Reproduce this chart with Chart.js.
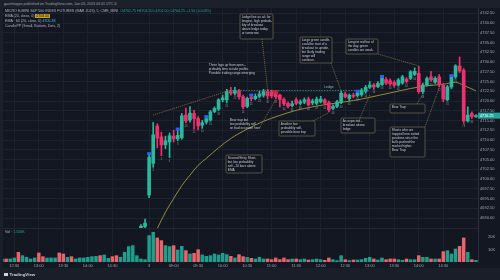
<!DOCTYPE html>
<html lang="en">
<head>
<meta charset="UTF-8">
<meta name="viewport" content="width=device-width, initial-scale=1.0">
<title>MES 5m - Jan 03</title>
<script src="https://cdn.jsdelivr.net/npm/chart.js@4.4.1/dist/chart.umd.min.js"></script>
<style>
    body {
        margin: 0;
        width: 500px;
        height: 280px;
        background: #131722;
        overflow: hidden;
        position: relative;
        font-family: 'Liberation Sans', Arial, sans-serif;
    }
    .topbar {
        position: absolute; left: 0; top: 0; width: 500px; height: 8px;
        background: #1c202b; color: #9da0a8; font-size: 3.6px; line-height: 8px;
        padding-left: 4px; box-sizing: border-box; z-index: 3;
    }
    .legend {
        position: absolute; left: 5px; top: 8.5px; z-index: 3;
        color: #b2b5be; font-size: 3.6px; line-height: 5px; white-space: nowrap;
    }
    .legend .up { color: #26a69a; }
    .legend .ema { color: #151515; background: #c9a227; padding: 0 0.8px; }
    .legend .ema60 { color: #4fc3f7; }
    .leftstrip { position: absolute; left: 0; top: 8px; width: 3px; height: 260px; background: #1b1f2a; z-index: 2; }
    #priceWrap { position: absolute; left: 0; top: 0; width: 500px; height: 228px; }
    #volWrap { position: absolute; left: 0; top: 228px; width: 500px; height: 40px; }
    .sep { position: absolute; left: 0; top: 228px; width: 478px; height: 1px; background: #222633; }
    .vollabel { position: absolute; left: 5px; top: 229.5px; font-size: 3.6px; color: #b2b5be; z-index: 3; }
    .vollabel span { color: #26a69a; }
    .footer { position: absolute; left: 0; top: 268px; width: 500px; height: 12px; background: #1a1e29; }
    .logo { position: absolute; left: 4px; top: 271.5px; font-size: 4.4px; color: #d1d4dc; font-weight: bold; z-index: 3; }
    .logo i { display: inline-block; width: 4px; height: 3px; background: #d1d4dc; margin-right: 1.5px; vertical-align: middle; }
</style>
</head>
<body>
<div class="topbar">gavinhoppe published on TradingView.com, Jan 03, 2023 03:41 UTC-6</div>
<div class="legend">
    <div>MICRO E-MINI S&amp;P 500 INDEX FUTURES (MAR 2023), 5, CME_MINI &nbsp;<span class="up">O4702.75 H4704.50 L4702.00 C4704.25 +1.50 (+0.03%)</span></div>
    <div>EMA (20, close, 0) <span class="ema">4708.00</span></div>
    <div>EMA · 60 (20, close, 0) <span class="ema60">4705.33</span></div>
    <div>CandlePP (Small, Bottom, Dots, 2)</div>
</div>
<div class="leftstrip"></div>
<div id="priceWrap"><canvas id="price"></canvas></div>
<div class="sep"></div>
<div id="volWrap"><canvas id="vol"></canvas></div>
<div class="vollabel">Vol · <span>1.556K</span></div>
<div class="footer"></div>
<div class="logo"><i></i>TradingView</div>

<script>
// sessions: Dec 30 12:15-15:10, Jan 3 08:30-15:10 (5 min bars)
function session(h, m, count) {
    const out = [];
    for (let k = 0; k < count; k++) {
        const t = h * 60 + m + k * 5;
        out.push(String(Math.floor(t / 60)).padStart(2, '0') + ':' + String(t % 60).padStart(2, '0'));
    }
    return out;
}
const times = session(12, 15, 36).concat(session(8, 30, 81));
const dayStart = 36;   // first bar of Jan 3, labelled "3"
const shownTimes = ['12:30', '13:00', '13:30', '14:00', '14:30', '09:00', '09:30', '10:00', '10:30', '11:00', '11:30', '12:00'];

const open = [
    4675.5,4676.0,4675.2,4676.0,4676.8,4674.5,4676.2,4677.0,4677.5,4678.2,
    4676.5,4675.8,4676.5,4677.2,4677.8,4675.9,4674.6,4675.5,4674.8,4675.4,
    4676.1,4676.9,4677.6,4678.5,4679.3,4678.0,4679.2,4679.8,4678.7,4677.6,
    4678.9,4681.0,4683.6,4686.0,4687.3,4687.8,
    4695.9,4704.0,4713.6,4710.8,4708.8,4709.5,4711.0,4710.3,4710.6,4716.4,
    4715.1,4716.8,4715.5,4713.8,4714.6,4715.1,4717.3,4717.9,4720.3,4720.3,
    4722.4,4722.0,4722.6,4721.1,4718.6,4720.9,4720.6,4721.2,4721.5,4722.4,
    4722.4,4722.0,4721.5,4720.4,4719.4,4718.8,4720.3,4719.4,4719.7,4720.5,
    4719.5,4719.4,4719.8,4720.3,4719.6,4718.1,4718.6,4719.6,4721.8,4720.6,
    4721.5,4721.4,4721.6,4722.5,4723.5,4724.1,4723.7,4724.2,4725.5,4725.2,
    4724.8,4724.1,4724.6,4725.6,4725.8,4726.8,4727.1,4722.4,4724.1,4726.2,
    4724.8,4726.2,4724.0,4720.3,4723.6,4726.2,4729.0,4727.9,4714.9,4716.8,
    4716.0
];
const high = [
    4676.5,4676.4,4676.3,4677.2,4677.0,4676.6,4677.3,4677.9,4678.6,4678.5,
    4676.9,4676.8,4677.5,4678.3,4678.1,4676.2,4675.9,4675.8,4675.7,4676.5,
    4677.2,4678.0,4678.9,4679.7,4679.6,4679.5,4680.2,4680.1,4679.0,4679.2,
    4681.4,4684.0,4686.4,4687.3,4688.3,4689.7,
    4706.5,4714.5,4714.2,4712.0,4711.0,4711.8,4712.5,4712.8,4716.8,4718.2,
    4718.6,4717.6,4716.0,4715.0,4716.0,4717.6,4718.5,4720.6,4721.5,4723.0,
    4723.5,4723.5,4723.0,4721.5,4721.0,4721.5,4721.8,4722.5,4723.0,4723.0,
    4722.8,4722.5,4721.8,4720.8,4719.8,4720.0,4720.8,4720.3,4720.8,4721.0,
    4720.5,4721.0,4721.2,4720.6,4720.0,4719.0,4720.2,4722.5,4722.3,4721.8,
    4722.0,4722.5,4723.2,4724.0,4725.0,4724.5,4725.0,4726.3,4726.0,4725.7,
    4725.2,4725.8,4726.6,4726.0,4727.8,4728.5,4728.9,4724.6,4726.2,4727.6,
    4726.2,4726.8,4724.5,4724.0,4726.5,4729.3,4731.3,4728.3,4718.5,4717.2,
    4716.5
];
const low = [
    4675.1,4674.9,4674.8,4675.7,4674.1,4674.2,4675.9,4676.7,4677.2,4676.1,
    4675.4,4675.5,4676.2,4676.9,4675.6,4674.3,4674.3,4674.5,4674.5,4675.1,
    4675.8,4676.6,4677.3,4678.2,4677.7,4677.7,4678.9,4678.4,4677.3,4677.3,
    4678.6,4680.7,4683.2,4685.7,4687.0,4687.5,
    4695.2,4703.0,4708.0,4706.0,4707.8,4705.5,4709.5,4709.8,4710.2,4714.4,
    4714.6,4712.8,4712.6,4713.0,4714.1,4714.8,4717.0,4717.5,4719.8,4719.5,
    4721.5,4721.5,4720.5,4718.0,4718.3,4720.0,4720.3,4720.8,4721.0,4720.5,
    4720.8,4720.5,4718.5,4718.8,4718.2,4718.5,4719.0,4719.0,4719.3,4718.7,
    4719.0,4719.0,4719.5,4719.0,4717.2,4717.8,4718.3,4719.3,4720.8,4720.0,
    4720.8,4721.0,4721.2,4722.0,4723.2,4723.0,4723.4,4724.0,4724.2,4724.0,
    4723.5,4723.8,4724.3,4724.6,4725.5,4726.5,4722.0,4721.9,4723.8,4725.0,
    4724.5,4723.6,4719.8,4720.0,4723.2,4725.8,4727.3,4714.3,4714.6,4715.5,
    4715.8
];
const close = [
    4676.0,4675.2,4676.0,4676.8,4674.5,4676.2,4677.0,4677.5,4678.2,4676.5,
    4675.8,4676.5,4677.2,4677.8,4675.9,4674.6,4675.5,4674.8,4675.4,4676.1,
    4676.9,4677.6,4678.5,4679.3,4678.0,4679.2,4679.8,4678.7,4677.6,4678.9,
    4681.0,4683.6,4686.0,4686.9,4687.9,4688.7,
    4705.6,4711.3,4710.5,4708.7,4709.8,4711.1,4710.3,4711.2,4716.2,4714.9,
    4716.9,4715.5,4713.6,4714.4,4715.5,4717.2,4718.1,4720.3,4720.8,4722.4,
    4722.0,4722.7,4721.1,4718.5,4720.7,4720.6,4721.2,4721.8,4722.4,4721.3,
    4721.3,4721.1,4720.4,4719.3,4718.6,4719.3,4719.4,4719.8,4720.3,4719.0,
    4720.0,4720.5,4720.5,4719.4,4717.7,4718.6,4719.8,4722.0,4721.1,4721.5,
    4721.2,4722.1,4722.8,4723.5,4724.1,4723.6,4724.5,4725.9,4724.6,4724.4,
    4724.0,4725.4,4726.2,4725.0,4727.5,4727.6,4722.4,4724.1,4725.8,4725.4,
    4725.8,4724.1,4720.5,4723.6,4726.2,4729.0,4727.7,4714.9,4716.4,4716.0,
    4716.25
];
const volume = [
    2650,2650,2650,3450,7950,5300,3980,2650,3450,7420,4500,3450,3450,3450,7420,6630,3980,4500,
    2650,3450,3450,3980,4500,4770,5300,5830,3180,4500,5300,3980,7950,12460,13250,5300,2650,2120,
    21200,23850,19350,17230,13250,12460,13250,9800,12720,9280,6630,7160,10070,5830,4770,5300,
    6630,5830,7160,6100,4770,3450,6100,4500,3980,
    3180,2650,3980,2650,2650,2120,3450,2120,3450,2120,2650,2650,2120,2650,1860,2120,2650,2120,1590,
    3450,2120,1330,5300,2120,1330,1860,1860,2120,3180,3980,2650,1860,3450,2120,2650,2650,2120,1590,
    2650,2120,2120,5300,3980,3980,2650,2650,2650,8480,9280,6630,10600,12720,19350,7950,2120,1556
];

// EMA 20 at a few bars
const emaIndex = [25,30,35,36,38,40,42,44,46,48,50,53,56,60,64,68,72,76,80,84,88,92,96,100,104,108,111,113,116];
const emaValue = [4677.6,4678.3,4680.5,4682.7,4687.3,4691.5,4695.0,4698.3,4701.0,4703.5,4705.3,4708.0,4710.4,
                  4712.8,4714.8,4716.3,4717.6,4718.5,4719.2,4719.8,4720.5,4721.4,4722.3,4723.2,4723.9,4724.3,
                  4724.8,4724.0,4722.6];

const priceTicks = [4690, 4692.5, 4695, 4697.5, 4700, 4702.5, 4705, 4707.5, 4710, 4712.5, 4715, 4717.5,
                    4720, 4722.5, 4725, 4727.5, 4730, 4732.5, 4735, 4737.5, 4740, 4742.5];
const volTicks = [10000, 20000];

const blueMarks = [36, 43, 50, 61, 87, 93, 110];
const redMarks = [67];
const ledgePrice = 4722.7, ledgeFrom = 55, ledgeTo = 90, ledgeLabelAt = 80;
const trendLine = { i0: 37, p0: 4716.4, i1: 56, p1: 4722.8 };

const notes = [
    { x: 240, y: 14, w: 33, h: 25, box: true, lines: ['Ledge line as a/c for', 'longest, high probab-', 'ility of breakout', 'above ledge today', 'or tomorrow'] },
    { x: 300, y: 37, w: 32, h: 26, box: true, lines: ['Large green candle,', 'could be start of a', 'breakout to upside,', 'but likely trading', 'range will', 'continue.'] },
    { x: 346, y: 39, w: 32, h: 15, box: true, lines: ['Longest red bar of', 'the day, green', 'candles are weak.'] },
    { x: 279, y: 121, w: 36, h: 15, box: true, lines: ['Another low', 'probability sell,', 'possible bear trap'] },
    { x: 341, y: 118, w: 34, h: 15, box: true, lines: ['As expected -', 'breakout above', 'ledge'] },
    { x: 390, y: 104, w: 35, h: 9, box: true, lines: ['Bear Trap'] },
    { x: 390, y: 127, w: 35, h: 30, box: true, lines: ['Shorts who are', 'trapped here exited', 'positions since the', 'bulls pushed the', 'market higher.', 'Bear Trap'] },
    { x: 226, y: 155, w: 36, h: 18, box: true, lines: ['Second Entry Short,', 'but low probability', 'sell - 20 bars above', 'EMA'] },
    { x: 207, y: 62, box: false, lines: ['Three legs up from open -', 'probably time to take profits.', 'Possible trading range emerging'] },
    { x: 228, y: 117, box: false, lines: ['Bear trap but', 'low probability sell', 'on bad occasion here'] }
];
// pointer lines: from a note corner to a bar (index, price)
const pointers = [
    { from: [262, 39], i: 65, p: 4723.0 },
    { from: [260, 127], i: 67, p: 4720.4 },
    { from: [331, 63], i: 83, p: 4722.6 },
    { from: [378, 54], i: 102, p: 4729.0 },
    { from: [313, 121], i: 80, p: 4717.0 },
    { from: [360, 118], i: 90, p: 4721.5 },
    { from: [417, 104], i: 103, p: 4721.7 },
    { from: [425, 127], i: 107, p: 4723.4 }
];

const yMin = 4687.44, yMax = 4745.9, volMax = 27000;
const upCandle = '#2bb89c', dnCandle = '#f0306e';
const upVol = '#1f9e8c', dnVol = '#e8656b';
const gridCol = '#1d2230';
const font = 'Liberation Sans, Arial, sans-serif';

const candleColors = open.map((o, i) => close[i] >= o ? upCandle : dnCandle);
const volColors = open.map((o, i) => close[i] >= o ? upVol : dnVol);
const wicks = low.map((l, i) => [l, high[i]]);
const bodies = open.map((o, i) => [o, close[i]]);
const emaSeries = times.map(() => null);
emaIndex.forEach((idx, k) => { emaSeries[idx] = emaValue[k]; });

function labelFor(i) {
    if (i === dayStart) return '3';
    return shownTimes.includes(times[i]) ? times[i] : '';
}
const gridX = ctx => labelFor(ctx.index) ? gridCol : 'rgba(0,0,0,0)';

const overlay = {
    id: 'overlay',
    afterDatasetsDraw(chart) {
        const { ctx, scales: { x, y } } = chart;
        const X = i => x.getPixelForValue(i);
        const Y = p => y.getPixelForValue(p);
        ctx.save();

        // ledge
        ctx.strokeStyle = '#3e8f96';
        ctx.lineWidth = 0.8;
        ctx.setLineDash([1.5, 1.2]);
        ctx.beginPath();
        ctx.moveTo(X(ledgeFrom), Y(ledgePrice));
        ctx.lineTo(X(ledgeTo), Y(ledgePrice));
        ctx.stroke();
        ctx.fillStyle = '#8db6bb';
        ctx.font = '3.4px ' + font;
        ctx.textAlign = 'center';
        ctx.textBaseline = 'bottom';
        ctx.fillText('Ledge', X(ledgeLabelAt), Y(ledgePrice) - 1.5);

        // trend line + pointers
        ctx.strokeStyle = '#a8903a';
        ctx.lineWidth = 0.7;
        ctx.setLineDash([1, 1]);
        ctx.beginPath();
        ctx.moveTo(X(trendLine.i0), Y(trendLine.p0));
        ctx.lineTo(X(trendLine.i1), Y(trendLine.p1));
        pointers.forEach(pt => {
            ctx.moveTo(pt.from[0], pt.from[1]);
            ctx.lineTo(X(pt.i), Y(pt.p));
        });
        ctx.stroke();
        ctx.setLineDash([]);

        // CandlePP marks
        blueMarks.forEach(i => { ctx.fillStyle = '#2962ff'; ctx.fillRect(X(i) - 2, Y(high[i]) - 1.5, 4, 3); });
        redMarks.forEach(i => { ctx.fillStyle = '#c62828'; ctx.fillRect(X(i) - 2.5, Y(high[i]) - 1, 5, 3.5); });

        // bar count under every second bar of the day
        ctx.fillStyle = '#8a8e98';
        ctx.font = '2.6px ' + font;
        ctx.textBaseline = 'top';
        for (let j = 1; j < times.length - dayStart; j += 2) {
            const i = dayStart + j;
            ctx.fillText(String(j + 1), X(i), Y(low[i]) + 2);
        }

        // notes
        ctx.textAlign = 'left';
        ctx.font = '3.2px ' + font;
        notes.forEach(n => {
            if (n.box) {
                ctx.fillStyle = '#131722';
                ctx.strokeStyle = '#7f7650';
                ctx.lineWidth = 0.6;
                ctx.beginPath();
                ctx.roundRect(n.x, n.y, n.w, n.h, 1);
                ctx.fill();
                ctx.stroke();
            }
            ctx.fillStyle = '#c9cbd1';
            n.lines.forEach((ln, k) => ctx.fillText(ln, n.x + 1.8, n.y + 1.4 + k * 4.1));
        });

        // last price tag
        const last = close.length - 1;
        const ty = Y(close[last]);
        ctx.fillStyle = '#26a69a';
        ctx.fillRect(x.right, ty - 3, 22, 6);
        ctx.fillStyle = '#ffffff';
        ctx.font = '3.8px ' + font;
        ctx.textBaseline = 'middle';
        ctx.fillText(close[last].toFixed(2), x.right + 2, ty + 0.2);
        ctx.restore();
    }
};

const fixY = s => { s.width = 22; s.paddingTop = 0; s.paddingBottom = 0; };

new Chart(document.getElementById('price'), {
    type: 'bar',
    data: {
        labels: times,
        datasets: [
            { type: 'line', label: 'EMA', data: emaSeries, borderColor: '#978b3a', borderWidth: 1,
              pointRadius: 0, spanGaps: true, cubicInterpolationMode: 'monotone', order: 3 },
            { label: 'Wick', data: wicks, backgroundColor: candleColors, barThickness: 1, grouped: false, order: 2 },
            { label: 'Body', data: bodies, backgroundColor: candleColors, barThickness: 3, minBarLength: 1, grouped: false, order: 1 }
        ]
    },
    options: {
        responsive: true,
        maintainAspectRatio: false,
        animation: false,
        layout: { padding: 0 },
        plugins: { legend: { display: false }, tooltip: { enabled: false } },
        scales: {
            x: {
                ticks: { display: false },
                grid: { offset: false, color: gridX, drawTicks: false },
                border: { display: false },
                afterFit: s => { s.height = 0; s.paddingLeft = 0; s.paddingRight = 0; }
            },
            y: {
                position: 'right',
                min: yMin,
                max: yMax,
                afterBuildTicks: s => { s.ticks = priceTicks.map(v => ({ value: v })); },
                ticks: { color: '#a3a6af', font: { size: 4, family: font }, padding: 2, callback: v => v.toFixed(2) },
                grid: { color: gridCol, drawTicks: false },
                border: { color: '#2a2e39' },
                afterFit: fixY
            }
        }
    },
    plugins: [overlay]
});

new Chart(document.getElementById('vol'), {
    type: 'bar',
    data: {
        labels: times,
        datasets: [{ label: 'Vol', data: volume, backgroundColor: volColors, barPercentage: 0.85, categoryPercentage: 1 }]
    },
    options: {
        responsive: true,
        maintainAspectRatio: false,
        animation: false,
        layout: { padding: 0 },
        plugins: { legend: { display: false }, tooltip: { enabled: false } },
        scales: {
            x: {
                ticks: { autoSkip: false, maxRotation: 0, minRotation: 0, color: '#a3a6af',
                         font: { size: 4, family: font }, padding: 1, callback: (v, i) => labelFor(i) },
                grid: { offset: false, color: gridX, drawTicks: false },
                border: { display: false },
                afterFit: s => { s.height = 6; s.paddingLeft = 0; s.paddingRight = 0; }
            },
            y: {
                position: 'right',
                min: 0,
                max: volMax,
                afterBuildTicks: s => { s.ticks = volTicks.map(v => ({ value: v })); },
                ticks: { color: '#a3a6af', font: { size: 4, family: font }, padding: 2, callback: v => (v / 1000) + 'K' },
                grid: { display: false },
                border: { color: '#2a2e39' },
                afterFit: fixY
            }
        }
    }
});
</script>
</body>
</html>
